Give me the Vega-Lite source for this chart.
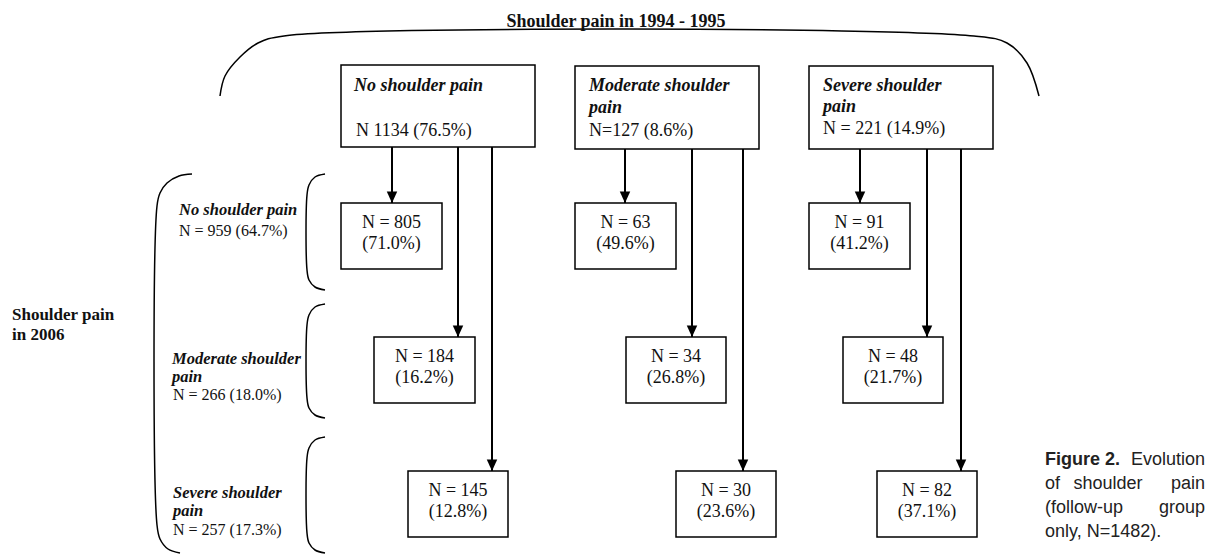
{
  "$schema": "https://vega.github.io/schema/vega-lite/v6.json",
  "width": 1210,
  "height": 555,
  "autosize": {"type": "none"},
  "padding": 0,
  "background": "white",
  "config": {"view": {"stroke": null}},
  "datasets": {
    "boxes": [
      {"x1": 341, "x2": 535, "y1": 65, "y2": 147},
      {"x1": 575, "x2": 759, "y1": 66, "y2": 149},
      {"x1": 809, "x2": 993, "y1": 66, "y2": 149},
      {"x1": 341, "x2": 442, "y1": 203, "y2": 269},
      {"x1": 575, "x2": 676, "y1": 203, "y2": 269},
      {"x1": 809, "x2": 910, "y1": 203, "y2": 269},
      {"x1": 374, "x2": 475, "y1": 337, "y2": 403},
      {"x1": 626, "x2": 726, "y1": 337, "y2": 403},
      {"x1": 843, "x2": 943, "y1": 337, "y2": 403},
      {"x1": 408, "x2": 508, "y1": 471, "y2": 537},
      {"x1": 676, "x2": 776, "y1": 471, "y2": 537},
      {"x1": 877, "x2": 977, "y1": 471, "y2": 537}
    ],
    "arrows": [
      {"x": 392, "from": 147, "to": 203},
      {"x": 458, "from": 147, "to": 337},
      {"x": 492, "from": 147, "to": 471},
      {"x": 625, "from": 149, "to": 203},
      {"x": 692, "from": 149, "to": 337},
      {"x": 743, "from": 149, "to": 471},
      {"x": 860, "from": 149, "to": 203},
      {"x": 927, "from": 149, "to": 337},
      {"x": 961, "from": 149, "to": 471}
    ],
    "braces": [
      {"b": "top", "i": 0, "x": 220, "y": 96},
      {"b": "top", "i": 1, "x": 225, "y": 76},
      {"b": "top", "i": 2, "x": 240, "y": 57},
      {"b": "top", "i": 3, "x": 258, "y": 43},
      {"b": "top", "i": 4, "x": 284, "y": 36},
      {"b": "top", "i": 5, "x": 974, "y": 36},
      {"b": "top", "i": 6, "x": 1007, "y": 43},
      {"b": "top", "i": 7, "x": 1027, "y": 63},
      {"b": "top", "i": 8, "x": 1039, "y": 96},
      {"b": "left", "i": 0, "x": 192, "y": 174},
      {"b": "left", "i": 1, "x": 179, "y": 176},
      {"b": "left", "i": 2, "x": 167, "y": 183},
      {"b": "left", "i": 3, "x": 160, "y": 193},
      {"b": "left", "i": 4, "x": 157, "y": 206},
      {"b": "left", "i": 5, "x": 157, "y": 525},
      {"b": "left", "i": 6, "x": 160, "y": 539},
      {"b": "left", "i": 7, "x": 168, "y": 549},
      {"b": "left", "i": 8, "x": 180, "y": 553},
      {"b": "r1", "i": 0, "x": 325, "y": 174},
      {"b": "r1", "i": 1, "x": 315, "y": 177},
      {"b": "r1", "i": 2, "x": 309, "y": 185},
      {"b": "r1", "i": 3, "x": 307, "y": 195},
      {"b": "r1", "i": 4, "x": 307, "y": 270},
      {"b": "r1", "i": 5, "x": 309, "y": 280},
      {"b": "r1", "i": 6, "x": 315, "y": 287},
      {"b": "r1", "i": 7, "x": 325, "y": 290},
      {"b": "r2", "i": 0, "x": 325, "y": 304},
      {"b": "r2", "i": 1, "x": 315, "y": 307},
      {"b": "r2", "i": 2, "x": 309, "y": 315},
      {"b": "r2", "i": 3, "x": 307, "y": 325},
      {"b": "r2", "i": 4, "x": 307, "y": 398},
      {"b": "r2", "i": 5, "x": 309, "y": 408},
      {"b": "r2", "i": 6, "x": 315, "y": 415},
      {"b": "r2", "i": 7, "x": 325, "y": 418},
      {"b": "r3", "i": 0, "x": 325, "y": 437},
      {"b": "r3", "i": 1, "x": 315, "y": 440},
      {"b": "r3", "i": 2, "x": 309, "y": 448},
      {"b": "r3", "i": 3, "x": 307, "y": 458},
      {"b": "r3", "i": 4, "x": 307, "y": 533},
      {"b": "r3", "i": 5, "x": 309, "y": 543},
      {"b": "r3", "i": 6, "x": 315, "y": 550},
      {"b": "r3", "i": 7, "x": 325, "y": 553}
    ],
    "cells": [
      {"x": 391.5, "y": 228, "text": "N = 805"},
      {"x": 391.5, "y": 249, "text": "(71.0%)"},
      {"x": 625.5, "y": 228, "text": "N = 63"},
      {"x": 625.5, "y": 249, "text": "(49.6%)"},
      {"x": 859.5, "y": 228, "text": "N = 91"},
      {"x": 859.5, "y": 249, "text": "(41.2%)"},
      {"x": 424.5, "y": 362, "text": "N = 184"},
      {"x": 424.5, "y": 383, "text": "(16.2%)"},
      {"x": 676, "y": 362, "text": "N = 34"},
      {"x": 676, "y": 383, "text": "(26.8%)"},
      {"x": 893, "y": 362, "text": "N = 48"},
      {"x": 893, "y": 383, "text": "(21.7%)"},
      {"x": 458, "y": 496, "text": "N = 145"},
      {"x": 458, "y": 517, "text": "(12.8%)"},
      {"x": 726, "y": 496, "text": "N = 30"},
      {"x": 726, "y": 517, "text": "(23.6%)"},
      {"x": 927, "y": 496, "text": "N = 82"},
      {"x": 927, "y": 517, "text": "(37.1%)"}
    ],
    "boxheads": [
      {"x": 354, "y": 91, "text": "No shoulder pain"},
      {"x": 589, "y": 91, "text": "Moderate shoulder"},
      {"x": 589, "y": 113, "text": "pain"},
      {"x": 823, "y": 91, "text": "Severe shoulder"},
      {"x": 823, "y": 112, "text": "pain"}
    ],
    "boxcounts": [
      {"x": 356, "y": 136, "text": "N 1134 (76.5%)"},
      {"x": 589, "y": 136, "text": "N=127 (8.6%)"},
      {"x": 823, "y": 134, "text": "N = 221 (14.9%)"}
    ],
    "rowheads": [
      {"x": 179, "y": 215, "text": "No shoulder pain"},
      {"x": 172, "y": 364, "text": "Moderate shoulder"},
      {"x": 172, "y": 382, "text": "pain"},
      {"x": 173, "y": 498, "text": "Severe shoulder"},
      {"x": 173, "y": 516, "text": "pain"}
    ],
    "rowcounts": [
      {"x": 179, "y": 236, "text": "N = 959 (64.7%)"},
      {"x": 173, "y": 400, "text": "N = 266 (18.0%)"},
      {"x": 173, "y": 535, "text": "N = 257 (17.3%)"}
    ],
    "sidetitle": [
      {"x": 12, "y": 320, "text": "Shoulder pain"},
      {"x": 12, "y": 340, "text": "in 2006"}
    ],
    "title": [
      {"x": 616, "y": 27, "text": "Shoulder pain in 1994 - 1995"}
    ],
    "capbold": [
      {"x": 1045, "y": 465, "text": "Figure 2."}
    ],
    "capleft": [
      {"x": 1045, "y": 489, "text": "of"},
      {"x": 1045, "y": 513, "text": "(follow-up"},
      {"x": 1045, "y": 537, "text": "only, N=1482)."}
    ],
    "capcenter": [
      {"x": 1108, "y": 489, "text": "shoulder"}
    ],
    "capright": [
      {"x": 1205, "y": 465, "text": "Evolution"},
      {"x": 1205, "y": 489, "text": "pain"},
      {"x": 1205, "y": 513, "text": "group"}
    ]
  },
  "layer": [
    {
      "data": {"name": "braces"},
      "mark": {"type": "line", "interpolate": "catmull-rom", "color": "black", "strokeWidth": 1.5},
      "encoding": {
        "x": {"field": "x", "type": "quantitative", "scale": {"domain": [0, 1210], "nice": false, "zero": false}, "axis": null},
        "y": {"field": "y", "type": "quantitative", "scale": {"domain": [0, 555], "reverse": true, "nice": false, "zero": false}, "axis": null},
        "detail": {"field": "b", "type": "nominal"},
        "order": {"field": "i", "type": "quantitative"}
      }
    },
    {
      "data": {"name": "arrows"},
      "mark": {"type": "rule", "color": "black", "strokeWidth": 2},
      "encoding": {
        "x": {"field": "x", "type": "quantitative", "axis": null},
        "y": {"field": "from", "type": "quantitative", "axis": null},
        "y2": {"field": "to"}
      }
    },
    {
      "data": {"name": "boxes"},
      "mark": {"type": "rect", "fill": "white", "stroke": "black", "strokeWidth": 1.5},
      "encoding": {
        "x": {"field": "x1", "type": "quantitative", "axis": null},
        "x2": {"field": "x2"},
        "y": {"field": "y1", "type": "quantitative", "axis": null},
        "y2": {"field": "y2"}
      }
    },
    {
      "data": {"name": "arrows"},
      "mark": {"type": "point", "shape": "M-1,-2.2L1,-2.2L0,0Z", "filled": true, "size": 110, "color": "black", "opacity": 1},
      "encoding": {
        "x": {"field": "x", "type": "quantitative", "axis": null},
        "y": {"field": "to", "type": "quantitative", "axis": null}
      }
    },
    {
      "data": {"name": "cells"},
      "mark": {"type": "text", "align": "center", "baseline": "alphabetic", "font": "Liberation Serif", "fontSize": 18, "color": "#111"},
      "encoding": {
        "x": {"field": "x", "type": "quantitative", "axis": null},
        "y": {"field": "y", "type": "quantitative", "axis": null},
        "text": {"field": "text"}
      }
    },
    {
      "data": {"name": "boxheads"},
      "mark": {"type": "text", "align": "left", "baseline": "alphabetic", "font": "Liberation Serif", "fontSize": 18, "fontWeight": "bold", "fontStyle": "italic", "color": "#111"},
      "encoding": {
        "x": {"field": "x", "type": "quantitative", "axis": null},
        "y": {"field": "y", "type": "quantitative", "axis": null},
        "text": {"field": "text"}
      }
    },
    {
      "data": {"name": "boxcounts"},
      "mark": {"type": "text", "align": "left", "baseline": "alphabetic", "font": "Liberation Serif", "fontSize": 18, "color": "#111"},
      "encoding": {
        "x": {"field": "x", "type": "quantitative", "axis": null},
        "y": {"field": "y", "type": "quantitative", "axis": null},
        "text": {"field": "text"}
      }
    },
    {
      "data": {"name": "rowheads"},
      "mark": {"type": "text", "align": "left", "baseline": "alphabetic", "font": "Liberation Serif", "fontSize": 16.5, "fontWeight": "bold", "fontStyle": "italic", "color": "#111"},
      "encoding": {
        "x": {"field": "x", "type": "quantitative", "axis": null},
        "y": {"field": "y", "type": "quantitative", "axis": null},
        "text": {"field": "text"}
      }
    },
    {
      "data": {"name": "rowcounts"},
      "mark": {"type": "text", "align": "left", "baseline": "alphabetic", "font": "Liberation Serif", "fontSize": 16, "color": "#111"},
      "encoding": {
        "x": {"field": "x", "type": "quantitative", "axis": null},
        "y": {"field": "y", "type": "quantitative", "axis": null},
        "text": {"field": "text"}
      }
    },
    {
      "data": {"name": "sidetitle"},
      "mark": {"type": "text", "align": "left", "baseline": "alphabetic", "font": "Liberation Serif", "fontSize": 17, "fontWeight": "bold", "color": "#111"},
      "encoding": {
        "x": {"field": "x", "type": "quantitative", "axis": null},
        "y": {"field": "y", "type": "quantitative", "axis": null},
        "text": {"field": "text"}
      }
    },
    {
      "data": {"name": "title"},
      "mark": {"type": "text", "align": "center", "baseline": "alphabetic", "font": "Liberation Serif", "fontSize": 18, "fontWeight": "bold", "color": "#111"},
      "encoding": {
        "x": {"field": "x", "type": "quantitative", "axis": null},
        "y": {"field": "y", "type": "quantitative", "axis": null},
        "text": {"field": "text"}
      }
    },
    {
      "data": {"name": "capbold"},
      "mark": {"type": "text", "align": "left", "baseline": "alphabetic", "font": "Liberation Sans", "fontSize": 18, "fontWeight": "bold", "color": "#222"},
      "encoding": {
        "x": {"field": "x", "type": "quantitative", "axis": null},
        "y": {"field": "y", "type": "quantitative", "axis": null},
        "text": {"field": "text"}
      }
    },
    {
      "data": {"name": "capleft"},
      "mark": {"type": "text", "align": "left", "baseline": "alphabetic", "font": "Liberation Sans", "fontSize": 18, "color": "#222"},
      "encoding": {
        "x": {"field": "x", "type": "quantitative", "axis": null},
        "y": {"field": "y", "type": "quantitative", "axis": null},
        "text": {"field": "text"}
      }
    },
    {
      "data": {"name": "capcenter"},
      "mark": {"type": "text", "align": "center", "baseline": "alphabetic", "font": "Liberation Sans", "fontSize": 18, "color": "#222"},
      "encoding": {
        "x": {"field": "x", "type": "quantitative", "axis": null},
        "y": {"field": "y", "type": "quantitative", "axis": null},
        "text": {"field": "text"}
      }
    },
    {
      "data": {"name": "capright"},
      "mark": {"type": "text", "align": "right", "baseline": "alphabetic", "font": "Liberation Sans", "fontSize": 18, "color": "#222"},
      "encoding": {
        "x": {"field": "x", "type": "quantitative", "axis": null},
        "y": {"field": "y", "type": "quantitative", "axis": null},
        "text": {"field": "text"}
      }
    }
  ]
}
